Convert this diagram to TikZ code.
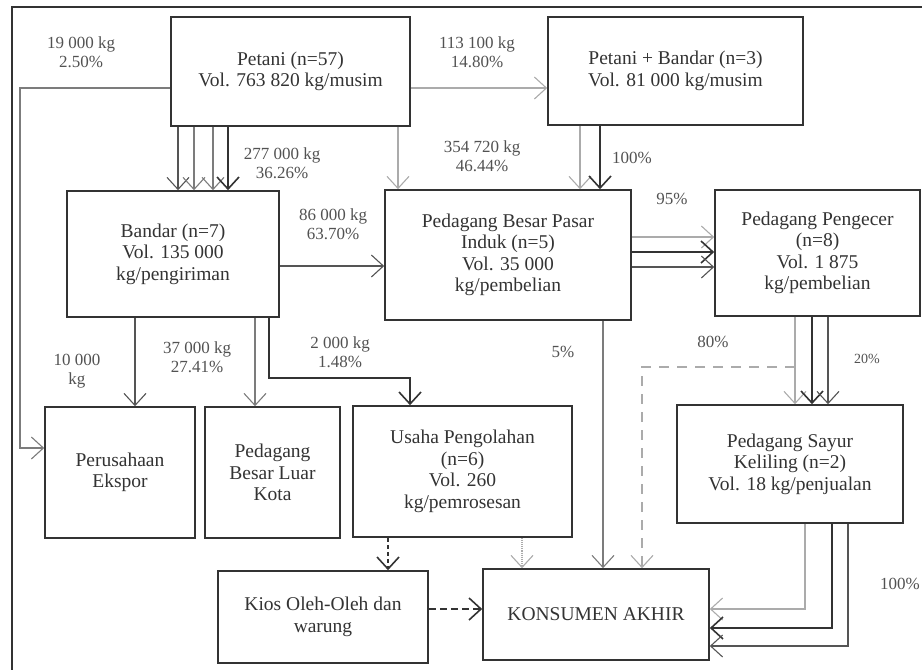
\documentclass[tikz,border=0pt]{standalone}
\usepackage{fontspec}
\setmainfont{Liberation Serif}
\usetikzlibrary{arrows.meta}
\definecolor{ink}{HTML}{333333}
\definecolor{dk}{HTML}{555555}
\definecolor{md}{HTML}{7c7c7c}
\definecolor{lt}{HTML}{ababab}

\begin{document}
\begin{tikzpicture}[x=1pt,y=-1pt,>={Straight Barb[length=12pt,width=22pt]},
  box/.style={draw=ink,line width=1.6pt,align=center,text=ink,inner sep=2pt,font=\fontsize{19.5}{21.5}\selectfont},
  lbl/.style={align=center,text=ink!85,font=\fontsize{17}{19.5}\selectfont},
  flow/.style={->,line width=1.1pt},
  bold/.style={->,line width=1.6pt,ink}]
  \useasboundingbox (0,0) rectangle (922,670);
  \draw[ink,line width=1.6pt] (12,670) -- (12,7) -- (922,7);

  \node[box,minimum width=239pt,minimum height=109pt] (petani) at (290.5,71.5) {Petani (n=57)\\Vol. 763 820 kg/musim};
  \node[box,minimum width=255pt,minimum height=108pt] (petband) at (675.5,71) {Petani + Bandar (n=3)\\Vol. 81 000 kg/musim};
  \node[box,minimum width=212pt,minimum height=126pt] (bandar) at (173,254) {Bandar (n=7)\\Vol. 135 000\\kg/pengiriman};
  \node[box,minimum width=246pt,minimum height=130pt] (pbpi) at (508,255) {Pedagang Besar Pasar\\Induk (n=5)\\Vol. 35 000\\kg/pembelian};
  \node[box,minimum width=205pt,minimum height=126pt] (ecer) at (817.5,253) {Pedagang Pengecer\\(n=8)\\Vol. 1 875\\kg/pembelian};
  \node[box,minimum width=150pt,minimum height=131pt] (ekspor) at (120,472.5) {Perusahaan\\Ekspor};
  \node[box,minimum width=135pt,minimum height=131pt] (pblk) at (272.5,472.5) {Pedagang\\Besar Luar\\Kota};
  \node[box,minimum width=219pt,minimum height=131pt] (olah) at (462.5,471.5) {Usaha Pengolahan\\(n=6)\\Vol. 260\\kg/pemrosesan};
  \node[box,minimum width=226pt,minimum height=118pt] (sayur) at (790,464) {Pedagang Sayur\\Keliling (n=2)\\Vol. 18 kg/penjualan};
  \node[box,minimum width=210pt,minimum height=92pt] (kios) at (323,617) {Kios Oleh-Oleh dan\\warung};
  \node[box,minimum width=226pt,minimum height=91pt] (konsumen) at (596,614.5) {KONSUMEN AKHIR};

  \draw[flow,dk] (178,0 |- petani.south) -- (178,0 |- bandar.north);
  \draw[flow,md] (194,0 |- petani.south) -- (194,0 |- bandar.north);
  \draw[flow,md] (213,0 |- petani.south) -- (213,0 |- bandar.north);
  \draw[bold] (228,0 |- petani.south) -- (228,0 |- bandar.north);
  \draw[flow,lt] (398,0 |- petani.south) -- (398,0 |- pbpi.north);
  \draw[flow,lt] (petani.east |- 0,88) -- (petband.west |- 0,88);
  \draw[flow,md] (petani.west |- 0,88) -- (20,88) -- (20,448) -- (ekspor.west |- 0,448);
  \draw[flow,lt] (580,0 |- petband.south) -- (580,0 |- pbpi.north);
  \draw[bold] (600,0 |- petband.south) -- (600,0 |- pbpi.north);

  \draw[flow,dk] (bandar.east |- 0,266) -- (pbpi.west |- 0,266);
  \draw[flow,dk] (135,0 |- bandar.south) -- (135,0 |- ekspor.north);
  \draw[flow,md] (255,0 |- bandar.south) -- (255,0 |- pblk.north);
  \draw[bold] (269,0 |- bandar.south) -- (269,378) -- (410,378) -- (410,0 |- olah.north);

  \draw[flow,lt] (pbpi.east |- 0,237) -- (ecer.west |- 0,237);
  \draw[bold] (pbpi.east |- 0,252) -- (ecer.west |- 0,252);
  \draw[flow,dk] (pbpi.east |- 0,267) -- (ecer.west |- 0,267);
  \draw[flow,md] (603,0 |- pbpi.south) -- (603,0 |- konsumen.north);

  \draw[flow,lt] (795,0 |- ecer.south) -- (795,0 |- sayur.north);
  \draw[bold] (812,0 |- ecer.south) -- (812,0 |- sayur.north);
  \draw[flow,dk] (828,0 |- ecer.south) -- (828,0 |- sayur.north);
  \coordinate (split) at (795,367);
  \draw[flow,lt,dash pattern=on 10pt off 8pt] (split) -- (642,367) -- (642,0 |- konsumen.north);

  \draw[bold,dash pattern=on 4pt off 3pt] (388,0 |- olah.south) -- (388,0 |- kios.north);
  \draw[flow,lt,densely dotted] (522,0 |- olah.south) -- (522,0 |- konsumen.north);
  \draw[bold,dash pattern=on 7pt off 4pt] (kios.east |- 0,609) -- (konsumen.west |- 0,609);
  \draw[flow,lt] (805,0 |- sayur.south) -- (805,609) -- (konsumen.east |- 0,609);
  \draw[bold] (832,0 |- sayur.south) -- (832,628) -- (konsumen.east |- 0,628);
  \draw[flow,dk] (848,0 |- sayur.south) -- (848,646) -- (konsumen.east |- 0,646);

  \node[lbl] (l1) at (81,52) {19 000 kg\\2.50\%};
  \node[lbl] (l2) at (477,52) {113 100 kg\\14.80\%};
  \node[lbl] (l3) at (282,163) {277 000 kg\\36.26\%};
  \node[lbl] (l4) at (482,156) {354 720 kg\\46.44\%};
  \node[lbl] (l5) at (632,158) {100\%};
  \node[lbl] (l6) at (333,224) {86 000 kg\\63.70\%};
  \node[lbl] (l7) at (672,199) {95\%};
  \node[lbl] (l8) at (77,371) {10 000\\kg};
  \node[lbl] (l9) at (197,357) {37 000 kg\\27.41\%};
  \node[lbl] (l10) at (340,352) {2 000 kg\\1.48\%};
  \node[lbl] (l11) at (563,352) {5\%};
  \node[lbl] (l12) at (713,342) {80\%};
  \node[lbl,font=\fontsize{14}{16}\selectfont] (l13) at (867,359) {20\%};
  \node[lbl] (l14) at (900,584) {100\%};
\end{tikzpicture}
\end{document}
